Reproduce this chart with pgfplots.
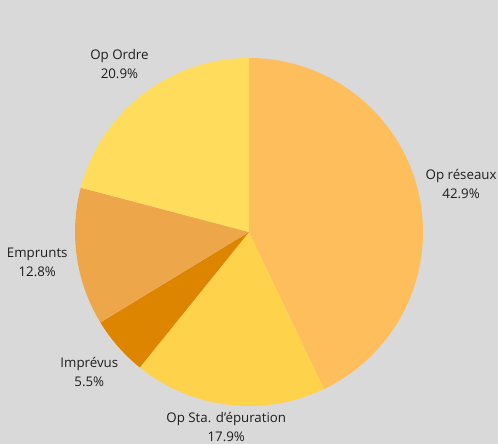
\documentclass[border=0pt]{standalone}
\usepackage{pgfplots}
\usepackage{pgfplotstable}
\pgfplotsset{compat=1.18}
\usepackage{fontspec}
\setmainfont{Open Sans}
\definecolor{bgc}{HTML}{D9D9D9}
\definecolor{cA}{HTML}{FFBE5C}
\definecolor{cB}{HTML}{FFD24C}
\definecolor{cC}{HTML}{DE8500}
\definecolor{cD}{HTML}{EDA74A}
\definecolor{cE}{HTML}{FFDC5C}
\definecolor{txt}{HTML}{1E1E1E}
\pgfplotstableread[col sep=comma]{
label,value,color,dist
Op réseaux,42.9,cA,1.25
Op Sta. d'épuration,17.9,cB,1.127
Imprévus,5.5,cC,1.22
Emprunts,12.8,cD,1.23
Op Ordre,20.9,cE,1.22
}\piedata
\begin{document}
\begin{tikzpicture}
\begin{axis}[
  x=174bp, y=174bp,
  xmin=-1.43103, xmax=1.43103,
  ymin=-1.21839, ymax=1.33333,
  hide axis, scale only axis, clip=false,
]
\fill[bgc] (rel axis cs:0,0) rectangle (rel axis cs:1,1);
\pgfplotstablegetrowsof{\piedata}
\pgfmathtruncatemacro\N{\pgfplotsretval-1}
\def\cum{0}
\pgfplotsforeachungrouped \i in {0,...,\N}{%
  \pgfplotstablegetelem{\i}{value}\of\piedata \let\v\pgfplotsretval
  \pgfplotstablegetelem{\i}{label}\of\piedata \let\lab\pgfplotsretval
  \pgfplotstablegetelem{\i}{color}\of\piedata \let\col\pgfplotsretval
  \pgfplotstablegetelem{\i}{dist}\of\piedata \let\dd\pgfplotsretval
  \pgfmathsetmacro\a{90-3.6*\cum}%
  \pgfmathsetmacro\b{90-3.6*(\cum+\v)}%
  \pgfmathsetmacro\m{(\a+\b)/2}%
  \pgfmathsetmacro\ax{cos(\a)}%
  \pgfmathsetmacro\ay{sin(\a)}%
  \pgfmathsetmacro\lx{\dd*cos(\m)}%
  \pgfmathsetmacro\ly{\dd*sin(\m)}%
  \edef\temp{%
    \noexpand\fill[\col] (axis cs:0,0) -- (axis cs:\ax,\ay) arc[start angle=\a, end angle=\b, radius=174bp] -- cycle;
    \noexpand\node[align=center, text=txt, inner sep=0pt, font=\noexpand\fontsize{13.3bp}{19bp}\noexpand\selectfont] at (axis cs:\lx,\ly) {\lab\noexpand\\\v\noexpand\%};
  }%
  \temp
  \pgfmathsetmacro\cum{\cum+\v}%
}
\end{axis}
\end{tikzpicture}
\end{document}
